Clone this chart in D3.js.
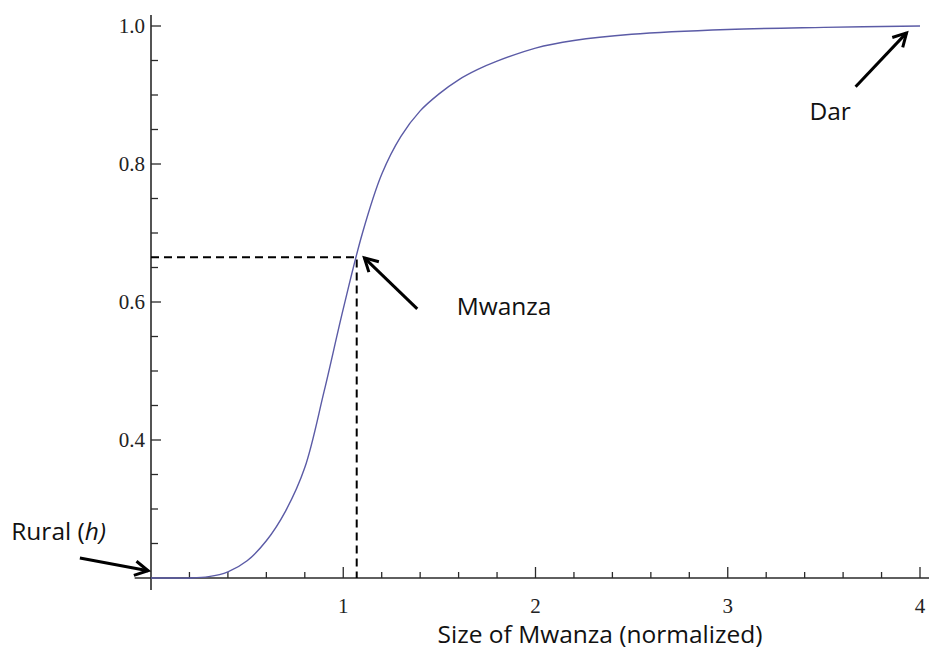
<!DOCTYPE html>
<html>
<head>
<meta charset="utf-8">
<script src="https://cdn.jsdelivr.net/npm/d3@7"></script>
<style>
  body { margin: 0; background: #fff; }
  .ticklab { font-family: "Liberation Serif", serif; font-size: 21px; fill: #222; }
  .note { font-family: "Open Sans", sans-serif; font-size: 24.5px; fill: #111; }
</style>
</head>
<body>
<svg id="chart" width="929" height="650"></svg>
<script>
// curve
var sizeX = [0, 0.1, 0.2, 0.3, 0.4, 0.5, 0.6, 0.7, 0.8, 0.9, 1.0, 1.1, 1.2, 1.3, 1.4, 1.5, 1.6, 1.7, 1.8, 2.0, 2.2, 2.5, 3.0, 3.5, 4.0];
var share = [0.2, 0.2, 0.2, 0.202, 0.209, 0.225, 0.254, 0.297, 0.36, 0.47, 0.59, 0.70, 0.785, 0.84, 0.877, 0.902, 0.922, 0.937, 0.949, 0.968, 0.979, 0.988, 0.995, 0.998, 1.0];

var xMajor = [1, 2, 3, 4];
var yMajor = [0.4, 0.6, 0.8, 1.0];

// Mwanza point
var mwanza = {x: 1.07, y: 0.665};

// annotations (data units)
var arrows = [
  {x1: -0.37, y1: 0.229, x2: -0.015, y2: 0.2105},
  {x1: 1.385, y1: 0.590, x2: 1.11, y2: 0.664},
  {x1: 3.665, y1: 0.912, x2: 3.93, y2: 0.990}
];
var labels = [
  {x: -0.727, y: 0.255, parts: [["Rural (", "normal"], ["h", "italic"], [")", "italic"]]},
  {x: 1.59, y: 0.581, parts: [["Mwanza", "normal"]]},
  {x: 3.425, y: 0.864, parts: [["Dar", "normal"]]}
];
var xTitle = "Size of Mwanza (normalized)";

var svg = d3.select("#chart");

var x = d3.scaleLinear().domain([0, 4]).range([151, 920]);
var y = d3.scaleLinear().domain([0.2, 1.0]).range([578, 26]);

var axisColor = "#2a2a2a";

// x axis
var gx = svg.append("g");
gx.append("line")
    .attr("x1", x(-0.085)).attr("x2", 929)
    .attr("y1", y(0.2)).attr("y2", y(0.2))
    .attr("stroke", axisColor).attr("stroke-width", 1.6);
gx.selectAll(".minor")
    .data(d3.range(1, 21).map(function(i) { return i * 0.2; }))
    .enter().append("line")
    .attr("x1", function(d) { return x(d); }).attr("x2", function(d) { return x(d); })
    .attr("y1", y(0.2)).attr("y2", function(d) { return Math.abs(d - Math.round(d)) < 1e-6 ? y(0.2) - 11 : y(0.2) - 6; })
    .attr("stroke", axisColor).attr("stroke-width", 1.3);
gx.selectAll("text")
    .data(xMajor)
    .enter().append("text")
    .attr("class", "ticklab")
    .attr("x", function(d) { return x(d); })
    .attr("y", y(0.2) + 35)
    .attr("text-anchor", "middle")
    .text(function(d) { return d; });

// y axis
var gy = svg.append("g");
gy.append("line")
    .attr("x1", x(0)).attr("x2", x(0))
    .attr("y1", y(1.016)).attr("y2", y(0.2) + 12)
    .attr("stroke", axisColor).attr("stroke-width", 1.6);
gy.selectAll(".minor")
    .data(d3.range(1, 17).map(function(i) { return 0.2 + i * 0.05; }))
    .enter().append("line")
    .attr("x1", x(0))
    .attr("x2", function(d) { return Math.abs(d * 5 - Math.round(d * 5)) < 1e-6 ? x(0) + 10 : x(0) + 7; })
    .attr("y1", function(d) { return y(d); }).attr("y2", function(d) { return y(d); })
    .attr("stroke", axisColor).attr("stroke-width", 1.3);
gy.selectAll("text")
    .data(yMajor)
    .enter().append("text")
    .attr("class", "ticklab")
    .attr("x", x(0) - 6)
    .attr("y", function(d) { return y(d); })
    .attr("dy", "0.35em")
    .attr("text-anchor", "end")
    .text(function(d) { return d.toFixed(1); });

// dashed guides
svg.append("path")
    .attr("d", "M" + x(0) + "," + y(mwanza.y) + "H" + x(mwanza.x) + "V" + y(0.2))
    .attr("fill", "none")
    .attr("stroke", "#000")
    .attr("stroke-width", 2)
    .attr("stroke-dasharray", "8,5");

// curve
var line = d3.line()
    .x(function(d, i) { return x(sizeX[i]); })
    .y(function(d) { return y(d); })
    .curve(d3.curveCatmullRom.alpha(0.5));

svg.append("path")
    .datum(share)
    .attr("d", line)
    .attr("fill", "none")
    .attr("stroke", "#5b5ba6")
    .attr("stroke-width", 1.4);

// arrows
arrows.forEach(function(a) {
  var x1 = x(a.x1), y1 = y(a.y1), x2 = x(a.x2), y2 = y(a.y2);
  var ang = Math.atan2(y2 - y1, x2 - x1);
  var len = 15, spread = 0.5;
  svg.append("line")
      .attr("x1", x1).attr("y1", y1).attr("x2", x2).attr("y2", y2)
      .attr("stroke", "#000").attr("stroke-width", 3);
  svg.append("path")
      .attr("d", "M" + (x2 - len * Math.cos(ang - spread)) + "," + (y2 - len * Math.sin(ang - spread)) +
                 "L" + x2 + "," + y2 +
                 "L" + (x2 - len * Math.cos(ang + spread)) + "," + (y2 - len * Math.sin(ang + spread)))
      .attr("fill", "none")
      .attr("stroke", "#000").attr("stroke-width", 3)
      .attr("stroke-linejoin", "miter");
});

// labels
labels.forEach(function(l) {
  var t = svg.append("text")
      .attr("class", "note")
      .attr("x", x(l.x))
      .attr("y", y(l.y));
  l.parts.forEach(function(p) {
    t.append("tspan").attr("font-style", p[1]).text(p[0]);
  });
});

svg.append("text")
    .attr("class", "note")
    .attr("x", 600)
    .attr("y", 643)
    .attr("text-anchor", "middle")
    .text(xTitle);
</script>
</body>
</html>
